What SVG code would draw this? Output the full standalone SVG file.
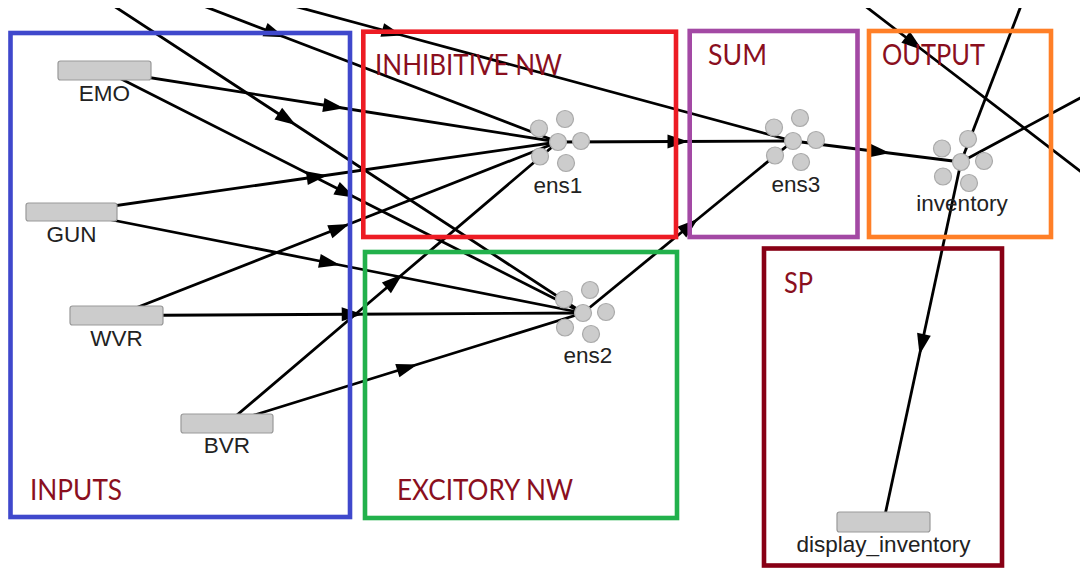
<svg xmlns="http://www.w3.org/2000/svg" width="1080" height="568" viewBox="0 0 1080 568">
  <style>
    .conn { fill: none; stroke: #000; stroke-width: 2.8; marker-mid: url(#arrow); }
    .node rect { fill: #cccccc; stroke: #999999; stroke-width: 1.2; }
    .ens circle { fill: #cccccc; stroke: #aaaaaa; stroke-width: 1.2; }
    .lbl { font-family: "Liberation Sans", Arial, sans-serif; font-size: 22.5px; fill: #222; text-anchor: middle; }
    .region { fill: none; stroke-width: 4.6; }
    .rlbl { font-family: Lato, "Open Sans", sans-serif; font-size: 28px; fill: #8a0f1e; }
  </style>
  <defs>
    <marker id="arrow" markerUnits="userSpaceOnUse" markerWidth="30" markerHeight="30" refX="0" refY="0" orient="auto" style="overflow:visible">
      <path d="M -8 -7 L 13 0 L -8 7 z" fill="#000"/>
    </marker>
    <!-- six-circle ensemble glyph, centred on its origin -->
    <g id="ensGlyph" class="ens">
      <circle cx="-19" cy="-13.5" r="8.5"/>
      <circle cx="7" cy="-23" r="8.5"/>
      <circle cx="23" cy="-1" r="8.5"/>
      <circle cx="-18" cy="14.5" r="8.5"/>
      <circle cx="8" cy="21" r="8.5"/>
      <circle cx="0" cy="0" r="8.5"/>
    </g>
    <clipPath id="view">
      <rect x="0" y="8" width="1080" height="560"/>
    </clipPath>
  </defs>

  <rect width="1080" height="568" fill="#fff"/>

  <!-- connections: each path runs source -> midpoint -> target, arrow sits on the midpoint -->
  <g id="connectors" clip-path="url(#view)">
    <path class="conn" d="M 104.5 70.5 L 331.25 106.25 L 558 142"/>
    <path class="conn" d="M 104.5 70.5 L 343.75 191.75 L 583 313"/>
    <path class="conn" d="M 71.5 212 L 314.75 177 L 558 142"/>
    <path class="conn" d="M 71.5 212 L 327.25 262.5 L 583 313"/>
    <path class="conn" d="M 116.5 315.5 L 337.25 228.75 L 558 142"/>
    <path class="conn" d="M 116.5 315.5 L 349.75 314.25 L 583 313"/>
    <path class="conn" d="M 227 423.5 L 392.5 282.75 L 558 142"/>
    <path class="conn" d="M 227 423.5 L 405 368.25 L 583 313"/>
    <path class="conn" d="M 558 142 L 675.5 141.5 L 793 141"/>
    <path class="conn" d="M 583 313 L 688 227 L 793 141"/>
    <path class="conn" d="M 793 141 L 877 151.5 L 961 162"/>
    <path class="conn" d="M 961 162 L 922.25 342 L 883.5 522"/>
    <!-- links to and from nodes outside the visible area -->
    <path class="conn" d="M -13 -77 L 272.5 32.5 L 558 142"/>
    <path class="conn" d="M -13 -77 L 285 118 L 583 313"/>
    <path class="conn" d="M -13 -77 L 390 32 L 793 141"/>
    <path class="conn" d="M 624 -179 L 912 42 L 1200 263"/>
    <path class="conn" d="M 1100 -200 L 1030.5 -19 L 961 162"/>
    <path class="conn" d="M 961 162 L 1111 81.5 L 1261 1"/>
  </g>

  <g id="node-emo" class="node">
    <rect x="58" y="61" width="93" height="19" rx="2.5"/>
    <text class="lbl" x="104.5" y="101">EMO</text>
  </g>
  <g id="node-gun" class="node">
    <rect x="26" y="203" width="91" height="18" rx="2.5"/>
    <text class="lbl" x="71.5" y="241.5">GUN</text>
  </g>
  <g id="node-wvr" class="node">
    <rect x="70" y="306" width="93" height="19" rx="2.5"/>
    <text class="lbl" x="116.5" y="345.5">WVR</text>
  </g>
  <g id="node-bvr" class="node">
    <rect x="181" y="414" width="92" height="19" rx="2.5"/>
    <text class="lbl" x="227" y="453">BVR</text>
  </g>
  <g id="node-display-inventory" class="node">
    <rect x="837" y="512" width="93" height="20" rx="2.5"/>
    <text class="lbl" x="883.5" y="552">display_inventory</text>
  </g>

  <g id="ens1">
    <use href="#ensGlyph" x="558" y="142"/>
    <text class="lbl" x="558" y="193">ens1</text>
  </g>
  <g id="ens2">
    <use href="#ensGlyph" x="583" y="313"/>
    <text class="lbl" x="588" y="363">ens2</text>
  </g>
  <g id="ens3">
    <use href="#ensGlyph" x="793" y="141"/>
    <text class="lbl" x="796" y="192">ens3</text>
  </g>
  <g id="inventory">
    <use href="#ensGlyph" x="961" y="162"/>
    <text class="lbl" x="962" y="211">inventory</text>
  </g>

  <!-- coloured region frames drawn over the network -->
  <g id="regions">
    <rect class="region" x="10.5" y="33" width="339.5" height="484" stroke="#3f48cc"/>
    <rect class="region" x="363.3" y="31.7" width="312.7" height="205.3" stroke="#ed1c24"/>
    <rect class="region" x="365" y="252" width="312" height="266" stroke="#22b14c"/>
    <rect class="region" x="689.7" y="31" width="167.8" height="206" stroke="#a349a4"/>
    <rect class="region" x="869" y="31" width="182" height="206" stroke="#ff7f27"/>
    <rect class="region" x="764" y="248.5" width="238" height="317" stroke="#880015"/>
    <text class="rlbl" x="30" y="500" textLength="92" lengthAdjust="spacingAndGlyphs">INPUTS</text>
    <text class="rlbl" x="375" y="75" textLength="187" lengthAdjust="spacingAndGlyphs">INHIBITIVE NW</text>
    <text class="rlbl" x="397" y="500" textLength="176" lengthAdjust="spacingAndGlyphs">EXCITORY NW</text>
    <text class="rlbl" x="708" y="65" textLength="59" lengthAdjust="spacingAndGlyphs">SUM</text>
    <text class="rlbl" x="882" y="65" textLength="103" lengthAdjust="spacingAndGlyphs">OUTPUT</text>
    <text class="rlbl" x="784" y="293" textLength="29" lengthAdjust="spacingAndGlyphs">SP</text>
  </g>
</svg>
